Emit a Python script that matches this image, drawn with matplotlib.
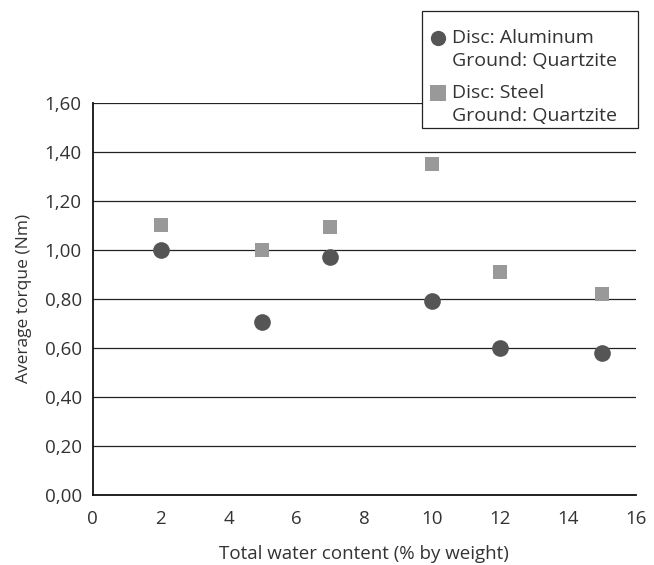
import matplotlib.pyplot as plt
from matplotlib.ticker import FuncFormatter
from matplotlib.legend_handler import HandlerLine2D

water = [2, 5, 7, 10, 12, 15]
torque_aluminum = [1.00, 0.705, 0.97, 0.79, 0.60, 0.58]
torque_steel = [1.10, 1.00, 1.095, 1.35, 0.91, 0.82]

x_ticks = [0, 2, 4, 6, 8, 10, 12, 14, 16]
y_ticks = [0.0, 0.2, 0.4, 0.6, 0.8, 1.0, 1.2, 1.4, 1.6]

plt.rcParams['font.family'] = ['Open Sans', 'DejaVu Sans']
text_color = '#333333'


class TopHandler(HandlerLine2D):
    # lift the marker so it sits beside the first line of a two-line label
    def create_artists(self, legend, orig_handle, xdescent, ydescent, width, height, fontsize, trans):
        arts = super().create_artists(legend, orig_handle, xdescent, ydescent, width, height, fontsize, trans)
        for a in arts:
            y = a.get_ydata()
            a.set_ydata([v + 0.6 * fontsize for v in y])
        return arts


fig = plt.figure(figsize=(6.54, 5.65), dpi=100)
ax = fig.add_axes([0.142, 0.124, 0.830, 0.694])

ax.plot(water, torque_aluminum, 'o', color='#555555', markersize=12,
        markeredgewidth=0, label='Disc: Aluminum\nGround: Quartzite', zorder=3)
ax.plot(water, torque_steel, 's', color='#999999', markersize=10,
        markeredgewidth=0, label='Disc: Steel\nGround: Quartzite', zorder=3)

ax.set_xlim(0, 16)
ax.set_ylim(0, 1.6)
ax.set_xticks(x_ticks)
ax.set_yticks(y_ticks)
ax.yaxis.set_major_formatter(FuncFormatter(lambda v, p: f"{v:.2f}".replace('.', ',')))
ax.tick_params(length=0, labelsize=13.5, colors=text_color)
ax.tick_params(axis='x', pad=11)
ax.tick_params(axis='y', pad=8)
ax.grid(axis='y', color='#222222', linewidth=0.9)
ax.set_axisbelow(True)
for s in ['top', 'right']:
    ax.spines[s].set_visible(False)
for s in ['left', 'bottom']:
    ax.spines[s].set_color('#111111')
    ax.spines[s].set_linewidth(1.3)

ax.set_xlabel('Total water content (% by weight)', fontsize=13.5, color=text_color, labelpad=12)
ax.set_ylabel('Average torque (Nm)', fontsize=12.5, color=text_color, labelpad=9)

# legend box spans roughly x 422..638 px, top at 11 px
# a tiny blank title only adds some room above the first entry
leg = fig.legend(loc='upper left', bbox_to_anchor=(0.645, 0.981, 0.330, 0.0), mode='expand',
                 fontsize=14, title=' ', title_fontsize=1,
                 frameon=True, fancybox=False, edgecolor='#222222', framealpha=1,
                 handletextpad=0.0, handlelength=1.38, borderpad=0.15, labelspacing=0.75,
                 borderaxespad=0, labelcolor=text_color,
                 handler_map={plt.Line2D: TopHandler()})
leg.get_frame().set_linewidth(0.9)
leg.legend_handles[0].set_markersize(11)
leg.legend_handles[1].set_markersize(11)
for t in leg.get_texts():
    t.set_linespacing(1.32)

fig.savefig('out.png', dpi=100)
